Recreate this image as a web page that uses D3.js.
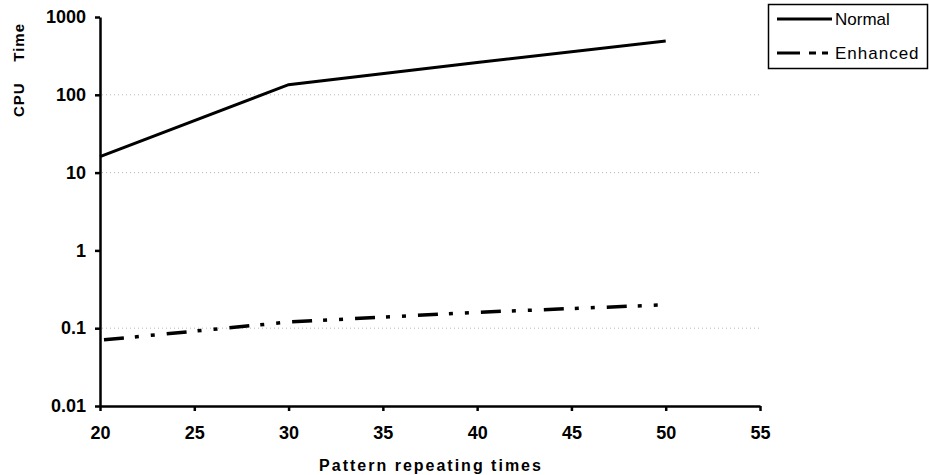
<!DOCTYPE html>
<html>
<head>
<meta charset="utf-8">
<script src="https://cdn.jsdelivr.net/npm/d3@7"></script>
<style>
    body { margin: 0; background: #fff; }
    text { font-family: "Liberation Sans", Arial, sans-serif; }
</style>
</head>
<body>
<div id="chart"></div>
<script>
// data
const repeats = [20, 30, 40, 50];
const normalTime = [16, 135, 260, 490];
const enhancedTime = [0.07, 0.12, 0.16, 0.2];
const xTicks = [20, 25, 30, 35, 40, 45, 50, 55];
const yTicks = [0.01, 0.1, 1, 10, 100, 1000];
const gridValues = [0.1, 10, 100];
const seriesNames = ["Normal", "Enhanced"];

const width = 929;
const height = 475;
const margin = { top: 17, bottom: 69, left: 100, right: 169 };

const svg = d3.select('#chart')
    .append('svg')
    .attr('width', width)
    .attr('height', height);

const x = d3.scaleLinear()
    .domain([20, 55])
    .range([margin.left, width - margin.right]);

const y = d3.scaleLog()
    .domain([0.01, 1000])
    .range([height - margin.bottom, margin.top]);

// dotted grid lines
svg.append("g")
    .selectAll("line")
    .data(gridValues)
    .join("line")
    .attr("x1", x(20) + 2)
    .attr("x2", x(55))
    .attr("y1", d => y(d))
    .attr("y2", d => y(d))
    .attr("stroke", "#b8b8b8")
    .attr("stroke-width", 1)
    .attr("stroke-dasharray", "1,3");

function yAxis(g) {
    g.attr("transform", `translate(${margin.left}, 0)`)
        .call(d3.axisLeft(y).tickValues(yTicks).tickFormat(d => String(d)).tickSize(5).tickSizeOuter(0))
        .attr("font-size", "18px")
        .attr("font-weight", "bold")
        .attr("font-family", "Liberation Sans, Arial, sans-serif");
    g.select(".domain").attr("stroke-width", 2.5);
    g.selectAll(".tick line").attr("stroke-width", 2.5);
    g.selectAll(".tick text").attr("fill", "#000").attr("x", -14);
}

function xAxis(g) {
    g.attr("transform", `translate(0,${height - margin.bottom})`)
        .call(d3.axisBottom(x).tickValues(xTicks).tickSize(5).tickSizeOuter(0))
        .attr("font-size", "18px")
        .attr("font-weight", "bold")
        .attr("font-family", "Liberation Sans, Arial, sans-serif");
    g.select(".domain").attr("stroke-width", 2.5);
    g.selectAll(".tick line").attr("stroke-width", 2.5);
    g.selectAll(".tick text").attr("fill", "#000").attr("y", 20);
}

svg.append("g").call(xAxis);
svg.append("g").call(yAxis);

const line = d3.line()
    .x(d => x(d[0]))
    .y(d => y(d[1]));

svg.append("path")
    .datum(d3.zip(repeats, normalTime))
    .attr("fill", "none")
    .attr("stroke", "#000")
    .attr("stroke-width", 3)
    .attr("d", line);

svg.append("path")
    .datum(d3.zip(repeats, enhancedTime))
    .attr("fill", "none")
    .attr("stroke", "#000")
    .attr("stroke-width", 3.5)
    .attr("stroke-dasharray", "20,11,4,12,4,12")
    .attr("stroke-dashoffset", -4)
    .attr("d", line);

// axis titles
svg.append("text")
    .attr("x", 431)
    .attr("y", 471)
    .attr("text-anchor", "middle")
    .style("font-size", "16px")
    .style("font-weight", "bold")
    .style("letter-spacing", "2px")
    .text("Pattern repeating times");

svg.append("text")
    .attr("transform", "rotate(-90)")
    .attr("x", -70)
    .attr("y", 24)
    .attr("text-anchor", "middle")
    .style("font-size", "15px")
    .style("font-weight", "bold")
    .style("letter-spacing", "1px")
    .style("white-space", "pre")
    .attr("xml:space", "preserve")
    .text("CPU    Time");

// legend
const legend = svg.append("g");
legend.append("rect")
    .attr("x", 768.5)
    .attr("y", 4.5)
    .attr("width", 159)
    .attr("height", 64)
    .attr("fill", "#fff")
    .attr("stroke", "#000")
    .attr("stroke-width", 1.5);

const legendDash = [null, "23,9,7,6,6,6"];
seriesNames.forEach(function (name, i) {
    const ly = 19 + i * 34;
    legend.append("line")
        .attr("x1", 777)
        .attr("x2", 832)
        .attr("y1", ly)
        .attr("y2", ly)
        .attr("stroke", "#000")
        .attr("stroke-width", 3)
        .attr("stroke-dasharray", legendDash[i]);
    legend.append("text")
        .attr("x", 835)
        .attr("y", ly + 6)
        .style("font-size", "17px")
        .style("letter-spacing", i == 1 ? "1px" : "0px")
        .text(name);
});
</script>
</body>
</html>
